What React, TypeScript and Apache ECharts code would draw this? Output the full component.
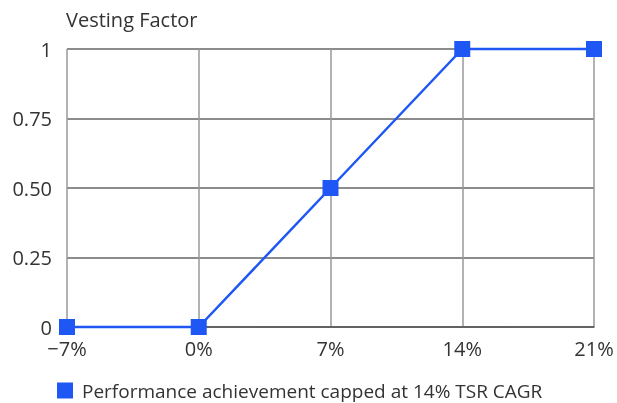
import React, { useEffect, useRef } from "react";
import * as echarts from "echarts";

const xValues = [-7, 0, 7, 14, 21];
const vestingValues = [0, 0, 0.5, 1, 1];
const yTickLabels: Record<string, string> = { "0": "0", "0.25": "0.25", "0.5": "0.50", "0.75": "0.75", "1": "1" };
const seriesName = "Performance achievement capped at 14% TSR CAGR";
const yAxisTitle = "Vesting Factor";

const FONT = "'Open Sans', 'Noto Sans', sans-serif";

export default function App() {
  const ref = useRef<HTMLDivElement>(null);
  useEffect(() => {
    const chart = echarts.init(ref.current!, null, { renderer: "svg" });
    chart.setOption({
      animation: false,
      textStyle: { fontFamily: FONT },
      grid: { left: 67, right: 23, top: 49, bottom: 76, containLabel: false },
      legend: {
        left: 57,
        top: 381,
        padding: 0,
        icon: "rect",
        itemWidth: 16,
        itemHeight: 16,
        textStyle: { fontSize: 19, lineHeight: 16, color: "#333", fontFamily: FONT, padding: [0, 0, 0, 4] },
        data: [seriesName],
      },
      graphic: [
        {
          type: "text",
          left: 66,
          top: 9,
          style: { text: yAxisTitle, fontSize: 20, fill: "#333", fontFamily: FONT },
        },
      ],
      xAxis: {
        type: "value",
        min: -7,
        max: 21,
        interval: 7,
        axisLine: { show: true, onZero: false, lineStyle: { color: "#555", width: 1.5 } },
        axisTick: { show: false },
        splitLine: { show: true, lineStyle: { color: "#999", width: 1.5 } },
        axisLabel: {
          margin: 11,
          fontSize: 20,
          color: "#333",
          fontFamily: FONT,
          formatter: (v: number) => (v < 0 ? "\u2212" + Math.abs(v) + "%" : v + "%"),
        },
      },
      yAxis: {
        type: "value",
        min: 0,
        max: 1,
        interval: 0.25,
        axisLine: { show: false },
        axisTick: { show: false },
        splitLine: { show: true, lineStyle: { color: "#666", width: 1.5 } },
        axisLabel: {
          margin: 15,
          fontSize: 20,
          color: "#333",
          fontFamily: FONT,
          formatter: (v: number) => yTickLabels[String(v)] ?? String(v),
        },
      },
      series: [
        {
          name: seriesName,
          type: "line",
          data: xValues.map((x, i) => [x, vestingValues[i]]),
          symbol: "rect",
          symbolSize: 16,
          itemStyle: { color: "#1f57f5" },
          lineStyle: { color: "#1f57f5", width: 2.5 },
          clip: false,
          z: 5,
        },
      ],
    });
    return () => chart.dispose();
  }, []);
  return (
    <div
      ref={ref}
      style={{ position: "fixed", left: 0, top: 0, width: 617, height: 403 }}
    />
  );
}
